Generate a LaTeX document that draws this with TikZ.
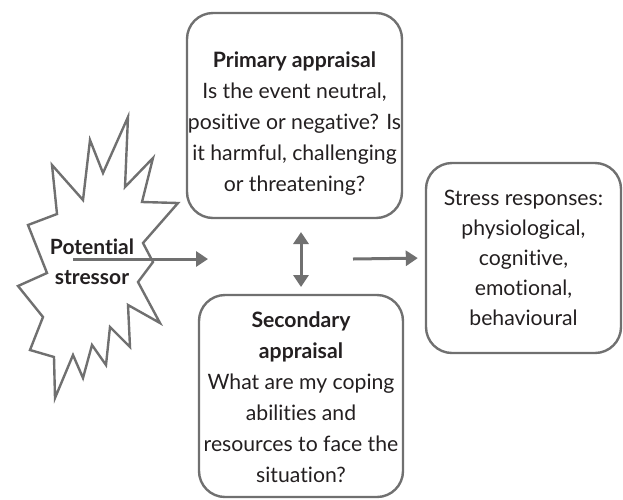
\documentclass[tikz,border=0pt]{standalone}
\usepackage{fontspec}
\setmainfont{Lato}[Ligatures=NoCommon]
\usetikzlibrary{arrows.meta}
\definecolor{linegray}{HTML}{707070}
\definecolor{inkgray}{HTML}{231F20}
\begin{document}
\begin{tikzpicture}[x=1pt,y=-1pt,
  box/.style={draw=linegray, line width=2.4pt, rounded corners=26pt, inner sep=0pt},
  boxtext/.style={align=center, inner sep=0pt, text=inkgray,
    font=\fontsize{21.2}{31}\selectfont},
  link/.style={draw=linegray, line width=3pt,
    -{Triangle[length=12pt,width=15pt]}},
  twoway/.style={link, {Triangle[length=12pt,width=15pt]}-{Triangle[length=12pt,width=15pt]}},
  burst/.style={draw=linegray, line width=2.4pt, line join=miter, fill=white}]
\useasboundingbox (0,0) rectangle (623,499);

% starburst around the stressor
\path[burst] (128,117) -- (125,187) -- (153,158) -- (142,202) -- (178,203)
  -- (143,243) -- (153,262) -- (138,282) -- (160,323) -- (128,305)
  -- (130,347) -- (110,327) -- (106,365) -- (92,345) -- (83,378)
  -- (73,355) -- (55,398) -- (54,357) -- (30,350) -- (43,317)
  -- (18,286) -- (47,273) -- (28,225) -- (57,214) -- (52,165)
  -- (83,200) -- (90,140) -- (103,173) -- cycle;

% boxes
\node[box, minimum width=215pt, minimum height=205pt] (primary) at (294.5,115.5) {};
\node[box, minimum width=204pt, minimum height=202pt] (secondary) at (301,396) {};
\node[box, minimum width=195pt, minimum height=190pt] (stress) at (523.5,258) {};

% box texts
\node[boxtext] (primaryText) at (294.5,124)
  {{\bfseries Primary appraisal}\\Is the event neutral,\\positive or negative? Is\\it harmful, challenging\\or threatening?};
\node[boxtext] (secondaryText) at (301,397.5)
  {{\bfseries Secondary}\\{\bfseries appraisal}\\What are my coping\\abilities and\\resources to face the\\situation?};
\node[boxtext, font=\fontsize{21.2}{30}\selectfont] (stressText) at (523.5,258)
  {Stress responses:\\physiological,\\cognitive,\\emotional,\\behavioural};

% arrow anchors in the gaps
\coordinate (stressorTail) at (73,259);
\coordinate (gapLeft) at (208,259);
\coordinate (gapRight) at (353,259);
\coordinate (pairTop) at (301,232);
\coordinate (pairBottom) at (301,287);

% connectors
\draw[link] (stressorTail) -- (gapLeft);
\draw[link, shorten >=7pt] (gapRight) -- (stress.west);
\draw[twoway] (pairTop) -- (pairBottom);

% stressor label
\node[text=inkgray, align=center, font=\bfseries\fontsize{21}{30}\selectfont] (stressor) at (92,262)
  {Potential\\stressor};
\end{tikzpicture}
\end{document}
